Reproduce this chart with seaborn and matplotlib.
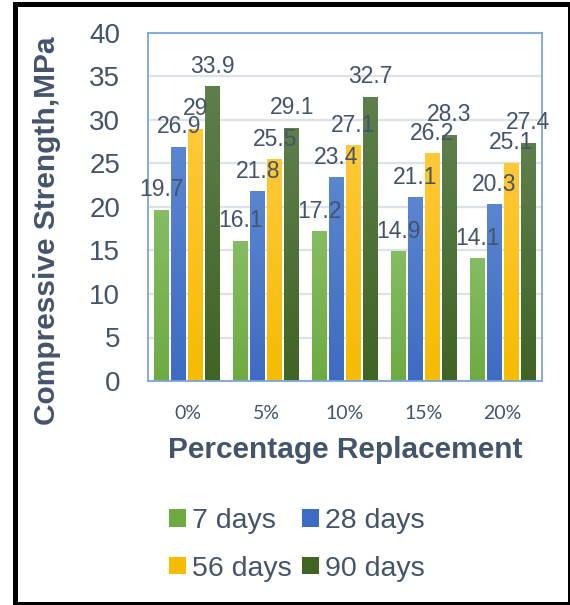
import numpy as np
import pandas as pd
import matplotlib
matplotlib.use("Agg")
import matplotlib.pyplot as plt
from matplotlib.patches import Patch, Rectangle
from matplotlib.colors import to_rgb
import seaborn as sns

# Compressive strength (MPa) by replacement level and curing age
categories = ["0%", "5%", "10%", "15%", "20%"]
ages = ["7 days", "28 days", "56 days", "90 days"]
days_7 = [19.7, 16.1, 17.2, 14.9, 14.1]
days_28 = [26.9, 21.8, 23.4, 21.1, 20.3]
days_56 = [29, 25.5, 27.1, 26.2, 25.1]
days_90 = [33.9, 29.1, 32.7, 28.3, 27.4]
y_ticks = [0, 5, 10, 15, 20, 25, 30, 35, 40]

series = [days_7, days_28, days_56, days_90]
df = pd.DataFrame({
    "Replacement": np.repeat([categories], len(ages), axis=0).ravel(),
    "Age": np.repeat(ages, len(categories)),
    "Strength": np.concatenate(series),
})

base_colors = ["#6DAB42", "#3E6CC3", "#F5BC00", "#3F6424"]
top_colors = ["#86BC62", "#5A85D0", "#FFC838", "#5E7F4C"]
text_color = "#44546A"

sns.set_style("white")
plt.rcParams["font.family"] = ["Liberation Sans", "DejaVu Sans"]

W, H = 570, 605
fig = plt.figure(figsize=(W / 100, H / 100), dpi=100)
ax = fig.add_axes([148 / W, 1 - 381 / H, (542 - 148) / W, (381 - 33) / H])

sns.barplot(data=df, x="Replacement", y="Strength", hue="Age",
            order=categories, hue_order=ages, palette=base_colors,
            width=0.863, gap=0.12, legend=False, ax=ax, saturation=1)

ax.set_ylim(0, 40)
ax.set_xlim(-0.5, len(categories) - 0.5)
ax.set_yticks(y_ticks)
ax.yaxis.grid(True, color="#DDE2E8", linewidth=1.6, zorder=0)
ax.set_axisbelow(True)
for sp in ax.spines.values():
    sp.set_color("#7AA7DB")
    sp.set_linewidth(1.3)

# vertical gradient inside every bar
for container, base, top in zip(ax.containers, base_colors, top_colors):
    c_top, c_bot = np.array(to_rgb(top)), np.array(to_rgb(base))
    t = np.linspace(0, 1, 64)[:, None]
    grad = (c_top * (1 - t) + c_bot * t)[:, None, :]
    for bar in container.patches:
        x0, _ = bar.get_xy()
        w, h = bar.get_width(), bar.get_height()
        im = ax.imshow(grad, extent=[x0, x0 + w, 0, h], origin="upper",
                       aspect="auto", interpolation="bilinear", zorder=2)
        im.set_clip_path(bar)
        bar.set_edgecolor("none")

ax.set_ylim(0, 40)
ax.set_xlim(-0.5, len(categories) - 0.5)

# value labels above the bars
for container, vals in zip(ax.containers, series):
    for bar, v in zip(container.patches, vals):
        ax.annotate(f"{v:g}", (bar.get_x() + bar.get_width() / 2, v),
                    xytext=(0, 9.7), textcoords="offset points",
                    ha="center", va="baseline", fontsize=16.5,
                    color=text_color, zorder=5)

ax.tick_params(axis="y", length=0, pad=20, labelsize=20, labelcolor=text_color)
ax.tick_params(axis="x", length=0, pad=17, labelcolor=text_color)
for lab in ax.get_xticklabels():
    lab.set_fontfamily(["Lato", "DejaVu Sans"])
    lab.set_fontsize(14)
ax.set_xlabel("")
ax.set_ylabel("")

fig.text(47 / W, 1 - 231 / H, "Compressive Strength,MPa", rotation=90,
         ha="center", va="center", fontsize=21.5, fontweight="bold",
         color=text_color)
fig.text(345 / W, 1 - 450 / H, "Percentage Replacement", ha="center",
         va="center", fontsize=21.5, fontweight="bold", color=text_color)

# two rows: 7/28 days on top, 56/90 days below (legend fills by column)
handles = [Patch(facecolor=c, edgecolor="none") for c in base_colors]
order = [0, 2, 1, 3]
fig.legend([handles[i] for i in order], [ages[i] for i in order],
           loc="center", bbox_to_anchor=(297 / W, 1 - 545 / H),
           ncol=2, frameon=False, fontsize=20.5, labelcolor=text_color,
           handlelength=0.58, handleheight=0.58, handletextpad=0.22,
           columnspacing=0.36, labelspacing=0.75, borderpad=0)

fig.patches.append(Rectangle((14.5 / W, 1 - 603.5 / H), 555 / W, 600 / H,
                             transform=fig.transFigure, fill=False,
                             edgecolor="black", linewidth=3.6))

fig.savefig("out.png", dpi=100)
